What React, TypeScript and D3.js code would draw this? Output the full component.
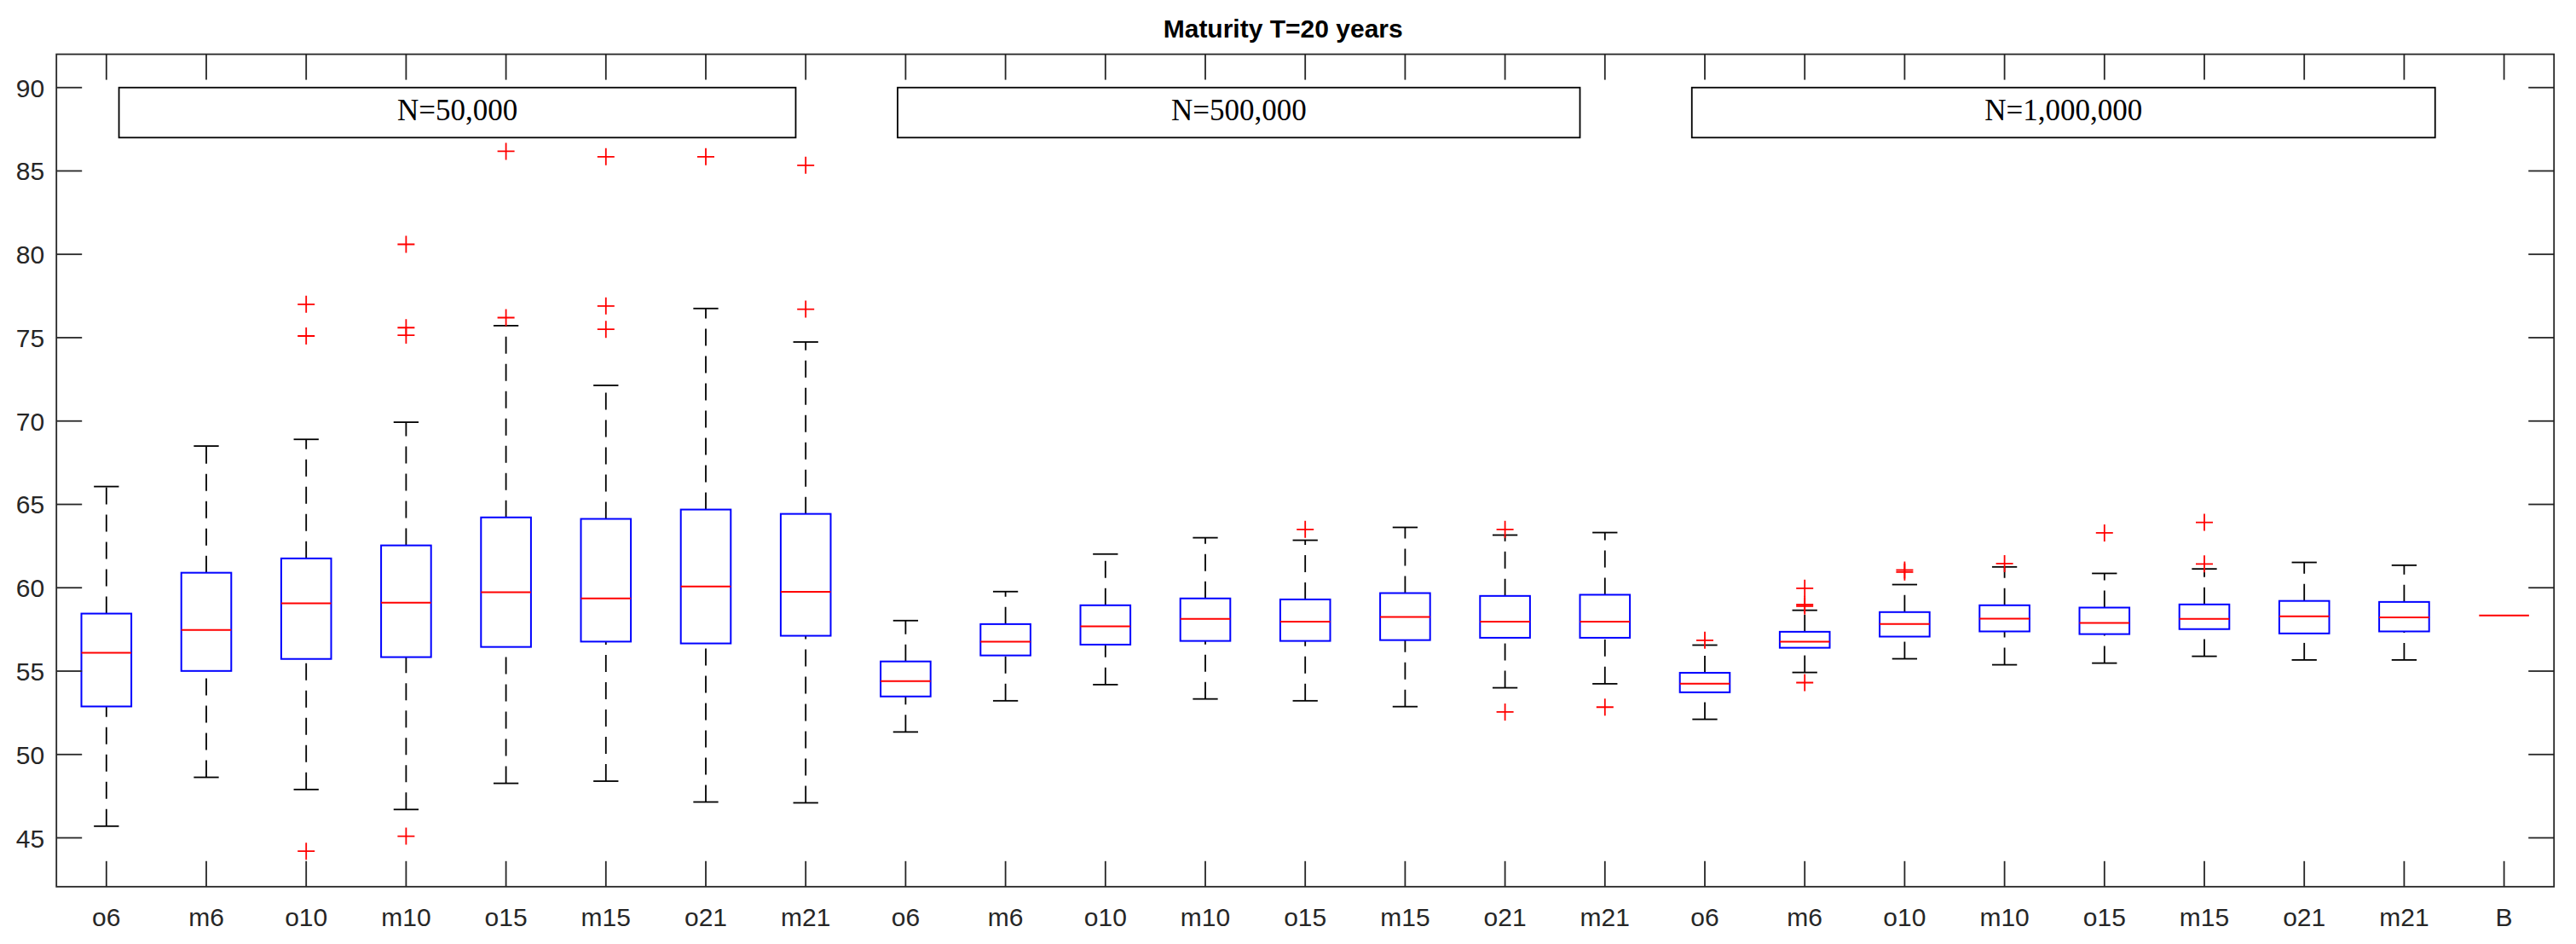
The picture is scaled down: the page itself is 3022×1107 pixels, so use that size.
import React, { useEffect, useRef } from "react";
import * as d3 from "d3";

// box statistics, one entry per category
const categories = [
  "o6", "m6", "o10", "m10", "o15", "m15", "o21", "m21",
  "o6", "m6", "o10", "m10", "o15", "m15", "o21", "m21",
  "o6", "m6", "o10", "m10", "o15", "m15", "o21", "m21",
  "B",
];

const whiskerLow = [
  45.7, 48.63, 47.9, 46.7, 48.27, 48.4, 47.15, 47.1,
  51.35, 53.22, 54.19, 53.33, 53.22, 52.87, 54.0, 54.24,
  52.11, 54.92, 55.74, 55.38, 55.48, 55.89, 55.67, 55.67,
  58.34,
];
const quartile1 = [
  52.88, 55.01, 55.73, 55.84, 56.45, 56.77, 56.66, 57.12,
  53.48, 55.94, 56.59, 56.81, 56.81, 56.86, 57.0, 57.0,
  53.73, 56.4, 57.07, 57.38, 57.22, 57.52, 57.26, 57.38,
  58.34,
];
const medians = [
  56.1, 57.47, 59.06, 59.1, 59.73, 59.36, 60.08, 59.76,
  54.4, 56.76, 57.68, 58.13, 57.97, 58.25, 57.97, 57.97,
  54.24, 56.76, 57.82, 58.14, 57.89, 58.13, 58.28, 58.22,
  58.34,
];
const quartile3 = [
  58.45, 60.9, 61.76, 62.54, 64.22, 64.13, 64.69, 64.43,
  55.58, 57.82, 58.95, 59.36, 59.3, 59.68, 59.51, 59.58,
  54.9, 57.36, 58.54, 58.95, 58.81, 59.0, 59.21, 59.15,
  58.34,
];
const whiskerHigh = [
  66.07, 68.5, 68.9, 69.93, 75.72, 72.14, 76.75, 74.74,
  58.03, 59.77, 62.02, 63.0, 62.85, 63.62, 63.16, 63.31,
  56.56, 58.65, 60.19, 61.25, 60.86, 61.13, 61.52, 61.35,
  58.34,
];
const outliers: number[][] = [
  [], [], [44.2, 75.1, 77.0], [45.1, 75.15, 75.6, 80.6],
  [76.2, 86.18], [75.5, 76.9, 85.85], [85.85], [76.71, 85.34],
  [], [], [], [], [63.5], [], [52.55, 63.5], [52.84],
  [56.85], [54.31, 58.9, 59.0, 59.97], [60.94, 61.06], [61.45],
  [63.29], [61.43, 63.92], [], [],
  [],
];

const yTicks = [45, 50, 55, 60, 65, 70, 75, 80, 85, 90];

// annotation boxes (x extent in category units, y extent in data units)
const groupLabels = ["N=50,000", "N=500,000", "N=1,000,000"];
const groupFrom = [1.126, 8.92, 16.87];
const groupTo = [7.9, 15.75, 24.31];
const groupYRange = [87, 90];

const title = "Maturity T=20 years";

const W = 3022;
const H = 1107;

export default function App() {
  const svgRef = useRef<SVGSVGElement>(null);

  useEffect(() => {
    if (!svgRef.current) return;
    const svg = d3.select(svgRef.current);
    svg.selectAll("*").remove();

    const left = 66.2;
    const right = 2996.2;
    const top = 63.6;
    const bottom = 1039.8;

    const x = d3.scaleLinear().domain([0.5, categories.length + 0.5]).range([left, right]);
    const y = d3.scaleLinear().domain([42.07, 92]).range([bottom, top]);
    const step = x(2) - x(1);
    const boxHalf = step * 0.25;
    const capHalf = step * 0.125;

    const axisColor = "#262626";
    const sans = "'Liberation Sans', Arial, Helvetica, sans-serif";
    const lw = 1.8;

    svg.append("rect").attr("width", W).attr("height", H).attr("fill", "#fff");

    const idx = d3.range(categories.length);
    const g = svg.append("g");

    // whiskers: drawn from the lower value upward, like MATLAB does
    const dash = "20,12";
    g.append("g")
      .selectAll("line")
      .data(idx.filter((i) => whiskerHigh[i] > quartile3[i]))
      .join("line")
      .attr("x1", (i) => x(i + 1))
      .attr("x2", (i) => x(i + 1))
      .attr("y1", (i) => y(quartile3[i]))
      .attr("y2", (i) => y(whiskerHigh[i]))
      .attr("stroke", "#000")
      .attr("stroke-width", lw)
      .attr("stroke-dasharray", dash);

    g.append("g")
      .selectAll("line")
      .data(idx.filter((i) => whiskerLow[i] < quartile1[i]))
      .join("line")
      .attr("x1", (i) => x(i + 1))
      .attr("x2", (i) => x(i + 1))
      .attr("y1", (i) => y(whiskerLow[i]))
      .attr("y2", (i) => y(quartile1[i]))
      .attr("stroke", "#000")
      .attr("stroke-width", lw)
      .attr("stroke-dasharray", dash);

    // caps
    for (const arr of [whiskerHigh, whiskerLow]) {
      g.append("g")
        .selectAll("line")
        .data(idx.filter((i) => whiskerHigh[i] !== whiskerLow[i]))
        .join("line")
        .attr("x1", (i) => x(i + 1) - capHalf)
        .attr("x2", (i) => x(i + 1) + capHalf)
        .attr("y1", (i) => y(arr[i]))
        .attr("y2", (i) => y(arr[i]))
        .attr("stroke", "#000")
        .attr("stroke-width", lw);
    }

    // boxes
    g.append("g")
      .selectAll("rect")
      .data(idx.filter((i) => quartile3[i] > quartile1[i]))
      .join("rect")
      .attr("x", (i) => x(i + 1) - boxHalf)
      .attr("width", boxHalf * 2)
      .attr("y", (i) => y(quartile3[i]))
      .attr("height", (i) => y(quartile1[i]) - y(quartile3[i]))
      .attr("fill", "none")
      .attr("stroke", "#0000ff")
      .attr("stroke-width", 2);

    // medians
    g.append("g")
      .selectAll("line")
      .data(idx)
      .join("line")
      .attr("x1", (i) => x(i + 1) - boxHalf)
      .attr("x2", (i) => x(i + 1) + boxHalf)
      .attr("y1", (i) => y(medians[i]))
      .attr("y2", (i) => y(medians[i]))
      .attr("stroke", "#ff0000")
      .attr("stroke-width", 2);

    // outliers as '+'
    const pts = idx.flatMap((i) => outliers[i].map((v) => ({ i, v })));
    const ms = 10;
    g.append("g")
      .selectAll("path")
      .data(pts)
      .join("path")
      .attr("d", (d) => {
        const cx = x(d.i + 1);
        const cy = y(d.v);
        return `M${cx - ms},${cy}H${cx + ms}M${cx},${cy - ms}V${cy + ms}`;
      })
      .attr("stroke", "#ff0000")
      .attr("stroke-width", lw)
      .attr("fill", "none");

    // annotation text boxes
    const ann = svg.append("g");
    groupLabels.forEach((label, k) => {
      const x0 = x(groupFrom[k]);
      const x1 = x(groupTo[k]);
      const y0 = y(groupYRange[1]);
      const y1 = y(groupYRange[0]);
      ann.append("rect")
        .attr("x", x0)
        .attr("y", y0)
        .attr("width", x1 - x0)
        .attr("height", y1 - y0)
        .attr("fill", "none")
        .attr("stroke", "#000")
        .attr("stroke-width", lw);
      ann.append("text")
        .attr("x", (x0 + x1) / 2)
        .attr("y", (y0 + y1) / 2 + 9)
        .attr("text-anchor", "middle")
        .attr("font-family", "'Liberation Serif', 'Times New Roman', serif")
        .attr("font-size", 35)
        .attr("fill", "#000")
        .text(label);
    });

    // axes frame and ticks
    const ax = svg.append("g").attr("stroke", axisColor).attr("stroke-width", lw);
    ax.append("rect")
      .attr("x", left)
      .attr("y", top)
      .attr("width", right - left)
      .attr("height", bottom - top)
      .attr("fill", "none");
    const tl = 30;
    ax.append("g")
      .selectAll("line")
      .data(idx)
      .join("line")
      .attr("x1", (i) => x(i + 1))
      .attr("x2", (i) => x(i + 1))
      .attr("y1", bottom)
      .attr("y2", bottom - tl);
    ax.append("g")
      .selectAll("line")
      .data(idx)
      .join("line")
      .attr("x1", (i) => x(i + 1))
      .attr("x2", (i) => x(i + 1))
      .attr("y1", top)
      .attr("y2", top + tl);
    ax.append("g")
      .selectAll("line")
      .data(yTicks)
      .join("line")
      .attr("x1", left)
      .attr("x2", left + tl)
      .attr("y1", (v) => y(v))
      .attr("y2", (v) => y(v));
    ax.append("g")
      .selectAll("line")
      .data(yTicks)
      .join("line")
      .attr("x1", right)
      .attr("x2", right - tl)
      .attr("y1", (v) => y(v))
      .attr("y2", (v) => y(v));

    // tick labels
    svg.append("g")
      .selectAll("text")
      .data(idx)
      .join("text")
      .attr("x", (i) => x(i + 1))
      .attr("y", 1086)
      .attr("text-anchor", "middle")
      .attr("font-family", sans)
      .attr("font-size", 30)
      .attr("fill", axisColor)
      .text((i) => categories[i]);

    svg.append("g")
      .selectAll("text")
      .data(yTicks)
      .join("text")
      .attr("x", left - 14)
      .attr("y", (v) => y(v) + 11)
      .attr("text-anchor", "end")
      .attr("font-family", sans)
      .attr("font-size", 30)
      .attr("fill", axisColor)
      .text((v) => String(v));

    svg.append("text")
      .attr("x", (left + right) / 2 - 26)
      .attr("y", 44)
      .attr("text-anchor", "middle")
      .attr("font-family", sans)
      .attr("font-weight", "bold")
      .attr("font-size", 30)
      .attr("fill", "#000")
      .text(title);
  }, []);

  return (
    <div style={{ position: "absolute", left: 0, top: 0, width: W, height: H, background: "#fff" }}>
      <svg ref={svgRef} width={W} height={H} />
    </div>
  );
}
